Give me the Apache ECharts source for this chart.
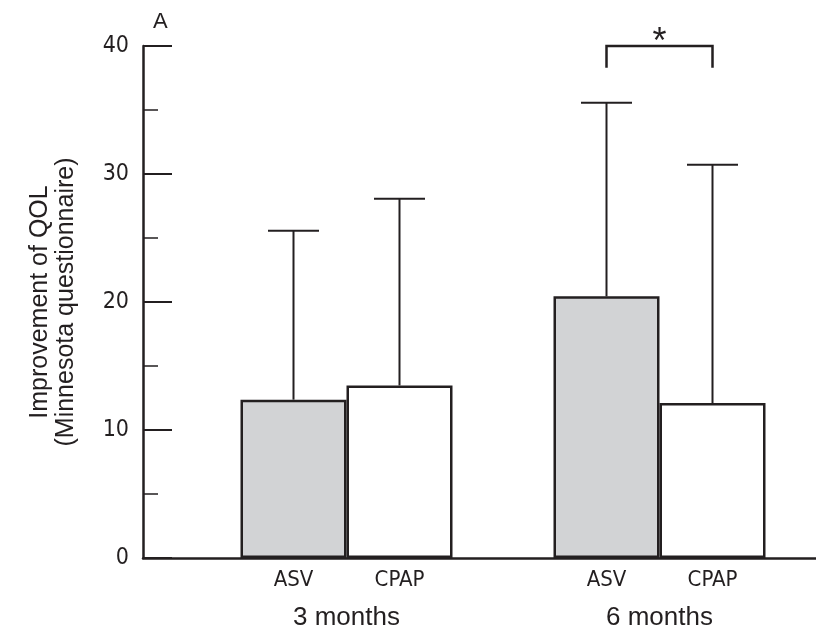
<!DOCTYPE html>
<html>
<head>
<meta charset="utf-8">
<script src="https://cdn.jsdelivr.net/npm/echarts@6/dist/echarts.min.js"></script>
<style>html,body{margin:0;padding:0;background:#fff;}#c{width:816px;height:633px;}</style>
</head>
<body>
<div id="c"></div>
<script>
// ---- data ----
const periods = ['3 months', '6 months'];
const treatments = ['ASV', 'CPAP'];
const asvMean = [12.37, 20.44];
const cpapMean = [13.48, 12.11];
const asvUpper = [25.57, 35.57];
const cpapUpper = [28.07, 30.73];
const yTicks = [0, 10, 20, 30, 40];
const panelLabel = 'A';
const yTitle = 'Improvement of QOL\n(Minnesota questionnaire)';
const sigBracket = [[1, 40, 38.3]]; // [period index, top value, end value]
const sigMark = '*';

// ---- style ----
const INK = '#231f20';
const GRAY = '#d2d3d5';
const BAR_W = 106;
const CAP_W = 51;
const NARROW = "'Liberation Sans Narrow', 'DejaVu Sans Condensed', 'Arial Narrow', sans-serif";
const REG = "'Liberation Sans', Arial, Helvetica, sans-serif";

const chart = echarts.init(document.getElementById('c'), null, {renderer: 'canvas'});

function errorSeries(name, means, uppers, side) {
  return {
    type: 'custom',
    name: name + ' SD',
    xAxisIndex: 1, yAxisIndex: 1,
    z: 5,
    data: means.map((m, i) => [i, m, uppers[i]]),
    renderItem: function (params, api) {
      const base = api.coord([api.value(0), api.value(1)]);
      const top = api.coord([api.value(0), api.value(2)]);
      const x = base[0] + side * BAR_W / 2;
      return {
        type: 'group',
        children: [
          {type: 'line', shape: {x1: x, y1: base[1], x2: x, y2: top[1]},
           style: {stroke: INK, lineWidth: 2}},
          {type: 'line', shape: {x1: x - CAP_W / 2, y1: top[1], x2: x + CAP_W / 2, y2: top[1]},
           style: {stroke: INK, lineWidth: 2}}
        ]
      };
    }
  };
}

const option = {
  animation: false,
  backgroundColor: '#fff',
  title: {
    text: panelLabel, left: 148, top: 6,
    textStyle: {fontFamily: REG, fontSize: 22, fontWeight: 'normal', color: INK}
  },
  grid: [
    {left: 143, right: 0, top: 46, bottom: 75},
    {left: 190, right: 0, top: 46, bottom: 75}
  ],
  xAxis: [
    {gridIndex: 0, type: 'value', min: 0, max: 1,
     axisLine: {show: true, onZero: false, lineStyle: {color: INK, width: 2.5}},
     axisTick: {show: false}, axisLabel: {show: false}, splitLine: {show: false}},
    {gridIndex: 1, type: 'category', data: periods,
     axisLine: {show: false}, axisTick: {show: false}, splitLine: {show: false},
     axisLabel: {
       interval: 0, margin: 8,
       formatter: function (v) { return '{a|' + treatments[0] + '}{b|' + treatments[1] + '}\n{c|' + v + '}'; },
       rich: {
         a: {width: BAR_W, align: 'center', fontFamily: NARROW, fontSize: 22, lineHeight: 29, color: INK},
         b: {width: BAR_W, align: 'center', fontFamily: NARROW, fontSize: 22, lineHeight: 29, color: INK},
         c: {width: BAR_W * 2, align: 'center', fontFamily: REG, fontSize: 26, lineHeight: 45, color: INK}
       }
     }}
  ],
  yAxis: [
    {gridIndex: 0, type: 'value', min: yTicks[0], max: yTicks[yTicks.length - 1], interval: 10,
     name: yTitle, nameLocation: 'middle', nameGap: 64,
     nameTextStyle: {fontFamily: REG, fontSize: 25, lineHeight: 26, color: INK},
     axisLine: {show: true, lineStyle: {color: INK, width: 2.5}},
     axisTick: {show: true, inside: true, length: 29, lineStyle: {color: INK, width: 2}},
     minorTick: {show: true, splitNumber: 2, length: 15, lineStyle: {color: INK, width: 1.5}},
     axisLabel: {margin: 14, fontFamily: NARROW, fontSize: 23, color: INK},
     splitLine: {show: false}},
    {gridIndex: 1, type: 'value', min: yTicks[0], max: yTicks[yTicks.length - 1], show: false}
  ],
  series: [
    {type: 'bar', name: treatments[0], xAxisIndex: 1, yAxisIndex: 1, data: asvMean,
     barWidth: BAR_W, barGap: '0%',
     itemStyle: {color: GRAY, borderColor: INK, borderWidth: 2.5}},
    {type: 'bar', name: treatments[1], xAxisIndex: 1, yAxisIndex: 1, data: cpapMean,
     barWidth: BAR_W, barGap: '0%',
     itemStyle: {color: '#fff', borderColor: INK, borderWidth: 2.5}},
    errorSeries(treatments[0], asvMean, asvUpper, -1),
    errorSeries(treatments[1], cpapMean, cpapUpper, 1),
    {type: 'custom', name: 'significance', xAxisIndex: 1, yAxisIndex: 1, z: 6,
     data: sigBracket,
     renderItem: function (params, api) {
       const top = api.coord([api.value(0), api.value(1)]);
       const end = api.coord([api.value(0), api.value(2)]);
       const xl = top[0] - BAR_W / 2, xr = top[0] + BAR_W / 2;
       return {
         type: 'group',
         children: [
           {type: 'polyline', shape: {points: [[xl, end[1]], [xl, top[1]], [xr, top[1]], [xr, end[1]]]},
            style: {stroke: INK, lineWidth: 2.5, fill: null}},
           {type: 'text', x: top[0], y: top[1] - 3,
            style: {text: sigMark, fontFamily: REG, fontSize: 36, fill: INK, align: 'center', verticalAlign: 'middle'}}
         ]
       };
     }}
  ]
};
chart.setOption(option);
</script>
</body>
</html>
